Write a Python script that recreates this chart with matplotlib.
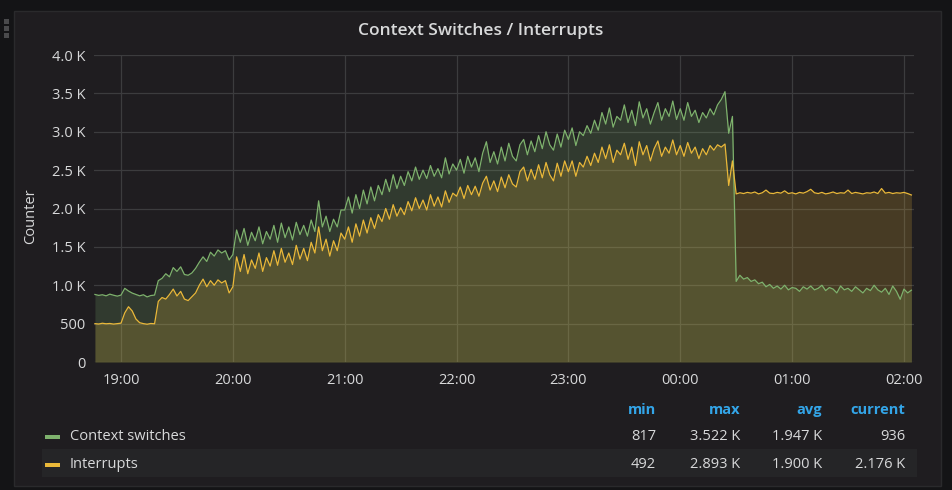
import matplotlib
matplotlib.use("Agg")
import matplotlib.pyplot as plt
from matplotlib.patches import Rectangle
import numpy as np

# samples every 2 minutes, minutes counted from 18:00 (first sample 18:46)
start_min = 46
step_min = 2

context_switches = [
    880, 868, 876, 862, 884, 870, 858, 872, 960, 925, 898, 880, 862, 876, 848, 866, 872,
    1060, 1090, 1150, 1110, 1230, 1180, 1240, 1140, 1130, 1160, 1220, 1300, 1370, 1310, 1430, 1380, 1460, 1420, 1450, 1330,
    1400, 1720, 1560, 1740, 1520, 1690, 1580, 1760, 1540, 1700, 1600, 1780, 1560, 1810, 1620, 1760, 1590, 1820, 1660, 1780,
    1640, 1850, 1700, 2100, 1760, 1900, 1700, 1860, 1760, 1980,
    1980, 2150, 1940, 2180, 2000, 2240, 2060, 2280, 2100, 2300, 2180, 2380, 2220, 2440, 2260, 2420, 2300, 2480, 2360, 2540,
    2380, 2500, 2390, 2560, 2420, 2520, 2400, 2660, 2450, 2580,
    2500, 2640, 2460, 2680, 2540, 2660, 2480, 2720, 2870, 2600, 2740, 2580, 2800, 2620, 2850, 2680, 2620, 2830, 2900, 2700,
    2880, 2740, 2950, 2780, 3000, 2830, 2760, 2970, 2800, 3020,
    2900, 3050, 2820, 3000, 2950, 3080, 2980, 3150, 3020, 3250, 3100, 3310, 3060, 3200, 3150, 3350, 3120, 3280, 3080, 3390,
    3180, 3300, 3100, 3250, 3380, 3150, 3300, 3200, 3400, 3160,
    3300, 3150, 3380, 3200, 3280, 3120, 3250, 3180, 3300, 3220, 3350, 3420, 3522, 2980, 3200,
    1050, 1130, 1080, 1100, 1050, 1070, 1020, 1040, 980, 1010, 960, 990, 950, 1000, 940, 970, 960, 920, 980, 950,
    990, 940, 960, 1000, 930, 970, 950, 900, 990, 940, 960, 920, 980, 940, 900, 960, 930, 1000, 940, 910,
    960, 880, 990, 920, 817, 950, 900, 936,
]

interrupts = [
    500, 495, 505, 498, 502, 494, 500, 506, 640, 720, 665, 560, 512, 500, 492, 502, 498,
    790, 840, 820, 880, 950, 860, 920, 820, 800, 850, 900, 1000, 1080, 980, 1060, 1000, 1070, 1030, 1060, 900,
    980, 1370, 1180, 1400, 1150, 1330, 1220, 1420, 1180, 1360, 1250, 1450, 1260, 1480, 1300, 1420, 1270, 1520, 1340, 1480,
    1320, 1560, 1420, 1760, 1450, 1600, 1380, 1580, 1450, 1680,
    1600, 1760, 1560, 1800, 1640, 1850, 1680, 1880, 1740, 1920, 1830, 2000, 1860, 2050, 1900, 2010, 1920, 2090, 1970, 2140,
    2000, 2110, 1980, 2180, 2030, 2150, 2020, 2230, 2080, 2200,
    2160, 2280, 2130, 2300, 2180, 2290, 2160, 2330, 2420, 2240, 2360, 2220, 2410, 2270, 2440, 2320, 2280, 2480, 2540, 2360,
    2510, 2380, 2570, 2400, 2600, 2440, 2360, 2590, 2420, 2620,
    2480, 2620, 2420, 2600, 2540, 2680, 2560, 2720, 2600, 2800, 2650, 2830, 2600, 2760, 2700, 2850, 2640, 2800, 2560, 2870,
    2700, 2820, 2620, 2780, 2880, 2680, 2800, 2720, 2893, 2700,
    2820, 2680, 2860, 2720, 2800, 2650, 2780, 2700, 2820, 2760, 2830, 2800, 2840, 2300, 2620,
    2190, 2205, 2195, 2210, 2200, 2215, 2190, 2205, 2240, 2200, 2195, 2210, 2200, 2230, 2195, 2205, 2190, 2210, 2200, 2220,
    2250, 2205, 2195, 2210, 2190, 2200, 2215, 2195, 2205, 2200, 2240, 2195, 2210, 2200, 2190, 2205, 2200, 2215, 2195, 2260,
    2200, 2210, 2195, 2205, 2200, 2210, 2195, 2176,
]

x_ticks_min = [60, 120, 180, 240, 300, 360, 420, 480]
x_tick_labels = ["19:00", "20:00", "21:00", "22:00", "23:00", "00:00", "01:00", "02:00"]
y_ticks = [0, 500, 1000, 1500, 2000, 2500, 3000, 3500, 4000]
y_tick_labels = ["0", "500", "1.0 K", "1.5 K", "2.0 K", "2.5 K", "3.0 K", "3.5 K", "4.0 K"]

series_names = ["Context switches", "Interrupts"]
stat_headers = ["min", "max", "avg", "current"]
stats = [
    ["817", "3.522 K", "1.947 K", "936"],
    ["492", "2.893 K", "1.900 K", "2.176 K"],
]

GREEN = "#7EB26D"
YELLOW = "#EAB839"
TEXT = "#d8d9da"
BLUE = "#33a5e8"
PANEL = "#1f1d20"

plt.rcParams["font.family"] = ["Open Sans", "DejaVu Sans"]

W, H = 952, 490
fig = plt.figure(figsize=(W / 100, H / 100), dpi=100, facecolor="#141416")


def fx(px):
    return px / W


def fy(py):
    return 1 - py / H


# panel background
fig.patches.append(Rectangle((fx(14), fy(486)), fx(941 - 14), (486 - 11) / H,
                             transform=fig.transFigure, facecolor=PANEL,
                             edgecolor="#2a2a2c", linewidth=1, zorder=-10))
# drag handle dots
for yy in [20, 27, 34]:
    fig.patches.append(Rectangle((fx(4), fy(yy + 4)), fx(5), 5 / H, transform=fig.transFigure,
                                 facecolor="#4a4a4c", edgecolor="none", zorder=-9))
# legend row stripe
fig.patches.append(Rectangle((fx(42), fy(477)), fx(917 - 42), 28 / H, transform=fig.transFigure,
                             facecolor="#252527", edgecolor="none", zorder=-9))

ax = fig.add_axes([fx(94), fy(362), fx(914 - 94), (362 - 55) / H])
ax.set_facecolor("none")

t = start_min + step_min * np.arange(len(context_switches))
cs = np.array(context_switches)
it = np.array(interrupts)

ax.fill_between(t, 0, cs, color=GREEN, alpha=0.2, linewidth=0, zorder=2)
ax.fill_between(t, 0, it, color=YELLOW, alpha=0.2, linewidth=0, zorder=2)
ax.plot(t, cs, color=GREEN, linewidth=0.9, zorder=3)
ax.plot(t, it, color=YELLOW, linewidth=0.9, zorder=4)

ax.set_xlim(45.5, 485.4)
ax.set_ylim(0, 4000)
ax.set_xticks(x_ticks_min)
ax.set_xticklabels(x_tick_labels)
ax.set_yticks(y_ticks)
ax.set_yticklabels(y_tick_labels)
ax.tick_params(length=0, colors=TEXT, labelsize=10.5)
ax.tick_params(axis="x", pad=8)
ax.tick_params(axis="y", pad=6)
ax.grid(True, color="#3c3c3e", linewidth=0.9)
ax.set_axisbelow(True)
for s in ax.spines.values():
    s.set_visible(False)

fig.text(fx(481), fy(31), "Context Switches / Interrupts", color=TEXT, fontsize=12.5,
         fontweight="semibold", ha="center", va="center")
fig.text(fx(31), fy(216), "Counter", color=TEXT, fontsize=10.5, rotation=90,
         ha="center", va="center")

# legend table
col_right = [656, 740, 822, 905]
for cx, h in zip(col_right, stat_headers):
    fig.text(fx(cx), fy(410), h, color=BLUE, fontsize=10.5, fontweight="bold",
             ha="right", va="center")
row_y = [436, 464]
for ry, name, col, vals in zip(row_y, series_names, [GREEN, YELLOW], stats):
    fig.patches.append(Rectangle((fx(45), fy(ry + 3)), fx(15), 4 / H, transform=fig.transFigure,
                                 facecolor=col, edgecolor="none", zorder=2))
    fig.text(fx(70), fy(ry), name, color=TEXT, fontsize=10.5, ha="left", va="center")
    for cx, v in zip(col_right, vals):
        fig.text(fx(cx), fy(ry), v, color=TEXT, fontsize=10.5, ha="right", va="center")

fig.savefig("out.png", dpi=100, facecolor=fig.get_facecolor())
